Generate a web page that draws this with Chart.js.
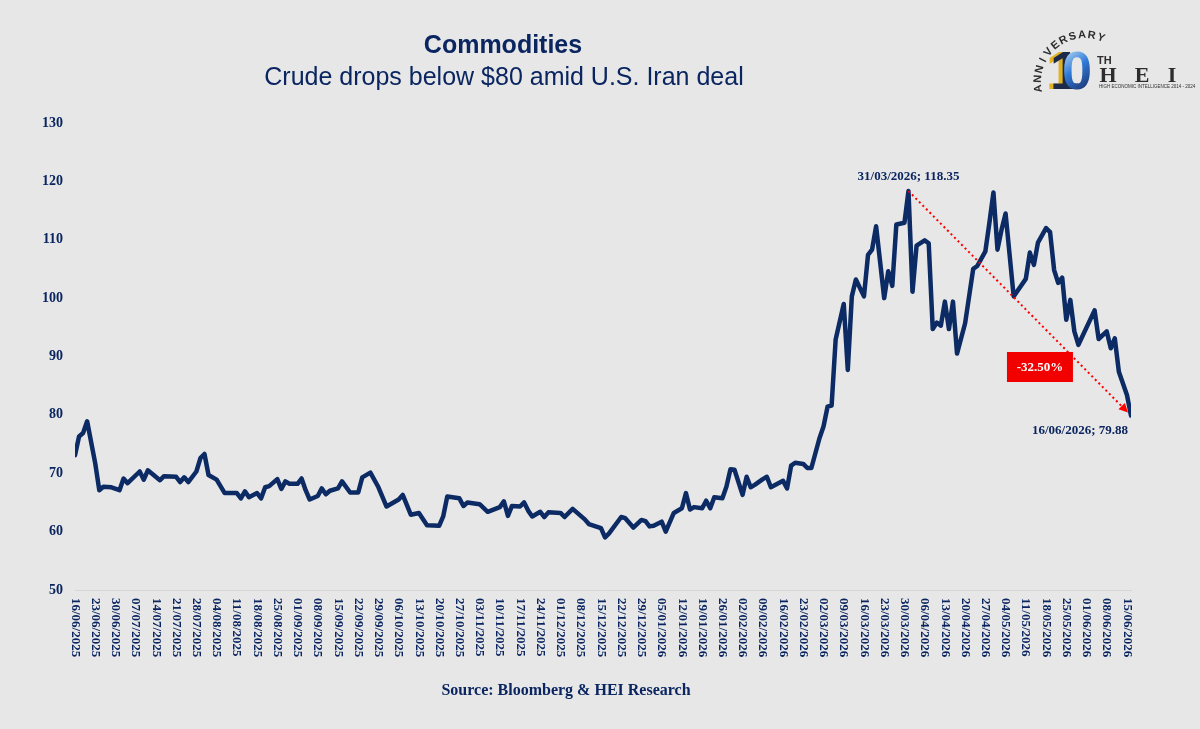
<!DOCTYPE html>
<html><head><meta charset="utf-8">
<script src="https://cdn.jsdelivr.net/npm/chart.js@4.4.1/dist/chart.umd.min.js"></script>
<style>html,body{margin:0;padding:0;background:#e7e7e7;} #wrap{position:relative;width:1200px;height:729px;}</style>
</head><body><div id="wrap"><canvas id="c"></canvas></div>
<script>
const titleText = "Commodities";
const subtitleText = "Crude drops below $80 amid U.S. Iran deal";
const sourceText = "Source: Bloomberg & HEI Research";

const weekLabels = ["16/06/2025","23/06/2025","30/06/2025","07/07/2025","14/07/2025","21/07/2025","28/07/2025","04/08/2025","11/08/2025","18/08/2025","25/08/2025","01/09/2025","08/09/2025","15/09/2025","22/09/2025","29/09/2025","06/10/2025","13/10/2025","20/10/2025","27/10/2025","03/11/2025","10/11/2025","17/11/2025","24/11/2025","01/12/2025","08/12/2025","15/12/2025","22/12/2025","29/12/2025","05/01/2026","12/01/2026","19/01/2026","26/01/2026","02/02/2026","09/02/2026","16/02/2026","23/02/2026","02/03/2026","09/03/2026","16/03/2026","23/03/2026","30/03/2026","06/04/2026","13/04/2026","20/04/2026","27/04/2026","04/05/2026","11/05/2026","18/05/2026","25/05/2026","01/06/2026","08/06/2026","15/06/2026"];

// business-day index counted from 16/06/2025
const dayIndex = [0,1,2,3,5,6,7,9,11,12,13,16,17,18,21,22,25,26,27,28,30,31,32,33,35,37,40,41,42,43,45,46,47,48,50,51,52,53,55,56,57,58,60,61,62,63,65,66,68,70,71,73,75,77,80,81,83,85,87,90,91,92,95,96,97,100,102,105,106,107,108,110,111,112,113,115,116,117,120,121,123,126,127,130,131,132,135,136,138,140,141,142,143,145,146,148,150,151,152,153,155,156,157,158,160,161,162,163,165,166,167,168,170,171,172,175,176,177,178,180,181,182,184,185,186,187,188,190,191,192,193,195,196,197,198,200,201,202,203,205,206,207,208,210,211,212,213,214,215,216,217,218,220,222,223,225,226,227,228,229,230,232,234,235,236,237,238,240,241,242,243,244,245,246,247,248,252,253,255,256,257,258,260,261];
const prices = [73.1,76.3,76.9,78.9,71.7,67.1,67.7,67.6,67.1,69.1,68.3,70.3,68.9,70.5,68.8,69.5,69.4,68.5,69.3,68.5,70.3,72.6,73.3,69.7,68.9,66.6,66.6,65.7,66.9,65.9,66.6,65.7,67.6,67.8,69.0,67.3,68.6,68.2,68.2,69.1,67.1,65.5,66.1,67.4,66.4,67.0,67.4,68.6,66.7,66.7,69.3,70.1,67.6,64.3,65.5,66.3,62.9,63.2,61.1,61.0,62.6,66.0,65.7,64.4,65.0,64.7,63.4,64.2,65.2,62.7,64.4,64.3,65.0,63.6,62.6,63.4,62.5,63.3,63.2,62.5,63.9,62.1,61.3,60.6,59.0,59.7,62.5,62.3,60.7,62.0,61.8,60.9,61.0,61.7,60.0,63.2,64.0,66.6,63.8,64.2,64.0,65.3,64.0,65.9,65.7,67.7,70.7,70.6,66.3,69.4,67.6,68.0,69.0,69.4,67.6,68.7,67.4,71.3,71.8,71.6,70.9,70.9,76.0,78.0,81.4,81.6,92.9,99.0,87.7,100.3,103.2,100.3,107.4,108.3,112.3,100.0,104.6,102.1,112.6,112.9,118.35,101.1,109.0,109.9,109.4,94.7,95.8,95.3,99.4,94.7,99.4,90.5,95.7,105.0,105.5,108.0,112.9,118.1,108.3,111.7,114.5,100.3,102.3,103.3,107.8,105.7,109.5,112.0,111.3,104.8,102.6,103.5,96.3,99.7,94.3,92.0,97.9,93.0,94.3,91.4,93.1,87.4,83.4,79.88];

const yMin = 50, yMax = 130, yStep = 10;
const peakIndex = 206, peakValue = 118.35, peakLabel = "31/03/2026; 118.35";
const endIndex = 261, endValue = 79.88, endLabel = "16/06/2026; 79.88";
const changeLabel = "-32.50%";
const changeBoxIndex = 238.5, changeBoxValue = 88.2;

const NAVY = '#0a2560';
const SERIF = '"Liberation Serif","Times New Roman",serif';
const SANS = '"Liberation Sans",Arial,sans-serif';

const decor = {
  id: 'decor',
  beforeDraw(chart) {
    const ctx = chart.ctx;
    ctx.save();
    ctx.fillStyle = '#e7e7e7';
    ctx.fillRect(0, 0, chart.width, chart.height);
    ctx.restore();
  },
  afterDatasetsDraw(chart) {
    const ctx = chart.ctx;
    const xs = chart.scales.x, ys = chart.scales.y;
    const x1 = xs.getPixelForValue(peakIndex), y1 = ys.getPixelForValue(peakValue);
    const x2 = xs.getPixelForValue(endIndex) - 3, y2 = ys.getPixelForValue(endValue) - 3;
    ctx.save();
    ctx.strokeStyle = '#ff0000';
    ctx.lineWidth = 2;
    ctx.setLineDash([2, 3]);
    ctx.beginPath();
    ctx.moveTo(x1, y1);
    const ang = Math.atan2(y2 - y1, x2 - x1);
    ctx.lineTo(x2 - 7 * Math.cos(ang), y2 - 7 * Math.sin(ang));
    ctx.stroke();
    ctx.setLineDash([]);
    ctx.fillStyle = '#ff0000';
    ctx.beginPath();
    ctx.moveTo(x2, y2);
    ctx.lineTo(x2 - 9 * Math.cos(ang) + 4.5 * Math.sin(ang), y2 - 9 * Math.sin(ang) - 4.5 * Math.cos(ang));
    ctx.lineTo(x2 - 9 * Math.cos(ang) - 4.5 * Math.sin(ang), y2 - 9 * Math.sin(ang) + 4.5 * Math.cos(ang));
    ctx.closePath();
    ctx.fill();
    const bx = xs.getPixelForValue(changeBoxIndex), by = ys.getPixelForValue(changeBoxValue);
    ctx.fillStyle = '#f20000';
    ctx.fillRect(bx - 33, by - 15, 66, 30);
    ctx.fillStyle = '#ffffff';
    ctx.font = 'bold 13px ' + SERIF;
    ctx.textAlign = 'center';
    ctx.textBaseline = 'middle';
    ctx.fillText(changeLabel, bx, by + 1);
    ctx.fillStyle = NAVY;
    ctx.textBaseline = 'alphabetic';
    ctx.fillText(peakLabel, x1, y1 - 11);
    ctx.fillText(endLabel, xs.getPixelForValue(endIndex) - 51, ys.getPixelForValue(endValue) + 18);
    ctx.restore();
  },
  afterDraw(chart) {
    const ctx = chart.ctx;
    const xs = chart.scales.x;
    ctx.save();
    ctx.fillStyle = NAVY;
    ctx.font = 'bold 13px ' + SERIF;
    ctx.textAlign = 'left';
    ctx.textBaseline = 'middle';
    const yTop = chart.chartArea.bottom + 8;
    weekLabels.forEach((lab, i) => {
      const x = xs.getPixelForValue(i * 5);
      ctx.save();
      ctx.translate(x, yTop);
      ctx.rotate(Math.PI / 2);
      ctx.fillText(lab, 0, 0);
      ctx.restore();
    });
    ctx.textAlign = 'center';
    ctx.textBaseline = 'alphabetic';
    ctx.font = 'bold 25px ' + SANS;
    ctx.fillText(titleText, 503, 53);
    ctx.font = '25px ' + SANS;
    ctx.fillText(subtitleText, 504, 85);
    ctx.font = 'bold 16px ' + SERIF;
    ctx.fillText(sourceText, 566, 695);
    // logo
    const word = 'ANNIVERSARY';
    const cx = 1085, cy = 82, r = 44;
    const a0 = 172 * Math.PI / 180, a1 = 290 * Math.PI / 180;
    ctx.font = 'bold 11px ' + SANS;
    ctx.fillStyle = '#2d2d2d';
    for (let i = 0; i < word.length; i++) {
      const a = a0 + (a1 - a0) * i / (word.length - 1);
      ctx.save();
      ctx.translate(cx + r * Math.cos(a), cy + r * Math.sin(a));
      ctx.rotate(a + Math.PI / 2);
      ctx.fillText(word[i], 0, 0);
      ctx.restore();
    }
    ctx.font = 'bold 54px ' + SANS;
    ctx.textAlign = 'left';
    ctx.fillStyle = '#e3b21f';
    ctx.fillText('1', 1046, 89);
    ctx.fillStyle = '#1d2a4a';
    ctx.fillText('1', 1050, 89);
    const g = ctx.createLinearGradient(1062, 48, 1092, 88);
    g.addColorStop(0, '#cbe8f7');
    g.addColorStop(0.5, '#2f7ad8');
    g.addColorStop(1, '#1b2f66');
    ctx.fillStyle = g;
    ctx.fillText('0', 1062, 89);
    ctx.fillStyle = '#2d2d2d';
    ctx.font = 'bold 11px ' + SANS;
    ctx.fillText('TH', 1097, 64);
    ctx.font = 'bold 22px ' + SERIF;
    ctx.textAlign = 'center';
    ctx.fillText('H', 1108, 82);
    ctx.fillText('E', 1142, 82);
    ctx.fillText('I', 1172, 82);
    ctx.font = '4.5px ' + SANS;
    ctx.textAlign = 'left';
    ctx.fillText('HIGH ECONOMIC INTELLIGENCE 2014 - 2024', 1099, 88);
    ctx.restore();
  }
};

new Chart(document.getElementById('c'), {
  type: 'line',
  data: {
    datasets: [{
      data: dayIndex.map((d, i) => ({ x: d, y: prices[i] })),
      borderColor: '#0c2a63',
      borderWidth: 4.5,
      pointRadius: 0,
      tension: 0,
      borderJoinStyle: 'round',
      borderCapStyle: 'round',
      fill: false
    }]
  },
  options: {
    responsive: true,
    maintainAspectRatio: false,
    animation: false,
    devicePixelRatio: 1,
    layout: { padding: { left: 0, right: 69, top: 123, bottom: 139 } },
    plugins: { legend: { display: false }, tooltip: { enabled: false }, title: { display: false } },
    scales: {
      x: {
        type: 'linear',
        min: 0, max: 261,
        grid: { display: false },
        border: { display: true, color: '#d6d6d6', width: 1 },
        ticks: { display: false, stepSize: 5, includeBounds: false },
        afterFit(s) { s.height = 0; }
      },
      y: {
        min: yMin, max: yMax,
        grid: { display: false, drawTicks: false },
        border: { display: false },
        ticks: { stepSize: yStep, color: NAVY, padding: 12, font: { family: SERIF, size: 14, weight: 'bold' } },
        afterFit(s) { s.width = 75; }
      }
    }
  },
  plugins: [decor]
});
</script>
</body></html>
